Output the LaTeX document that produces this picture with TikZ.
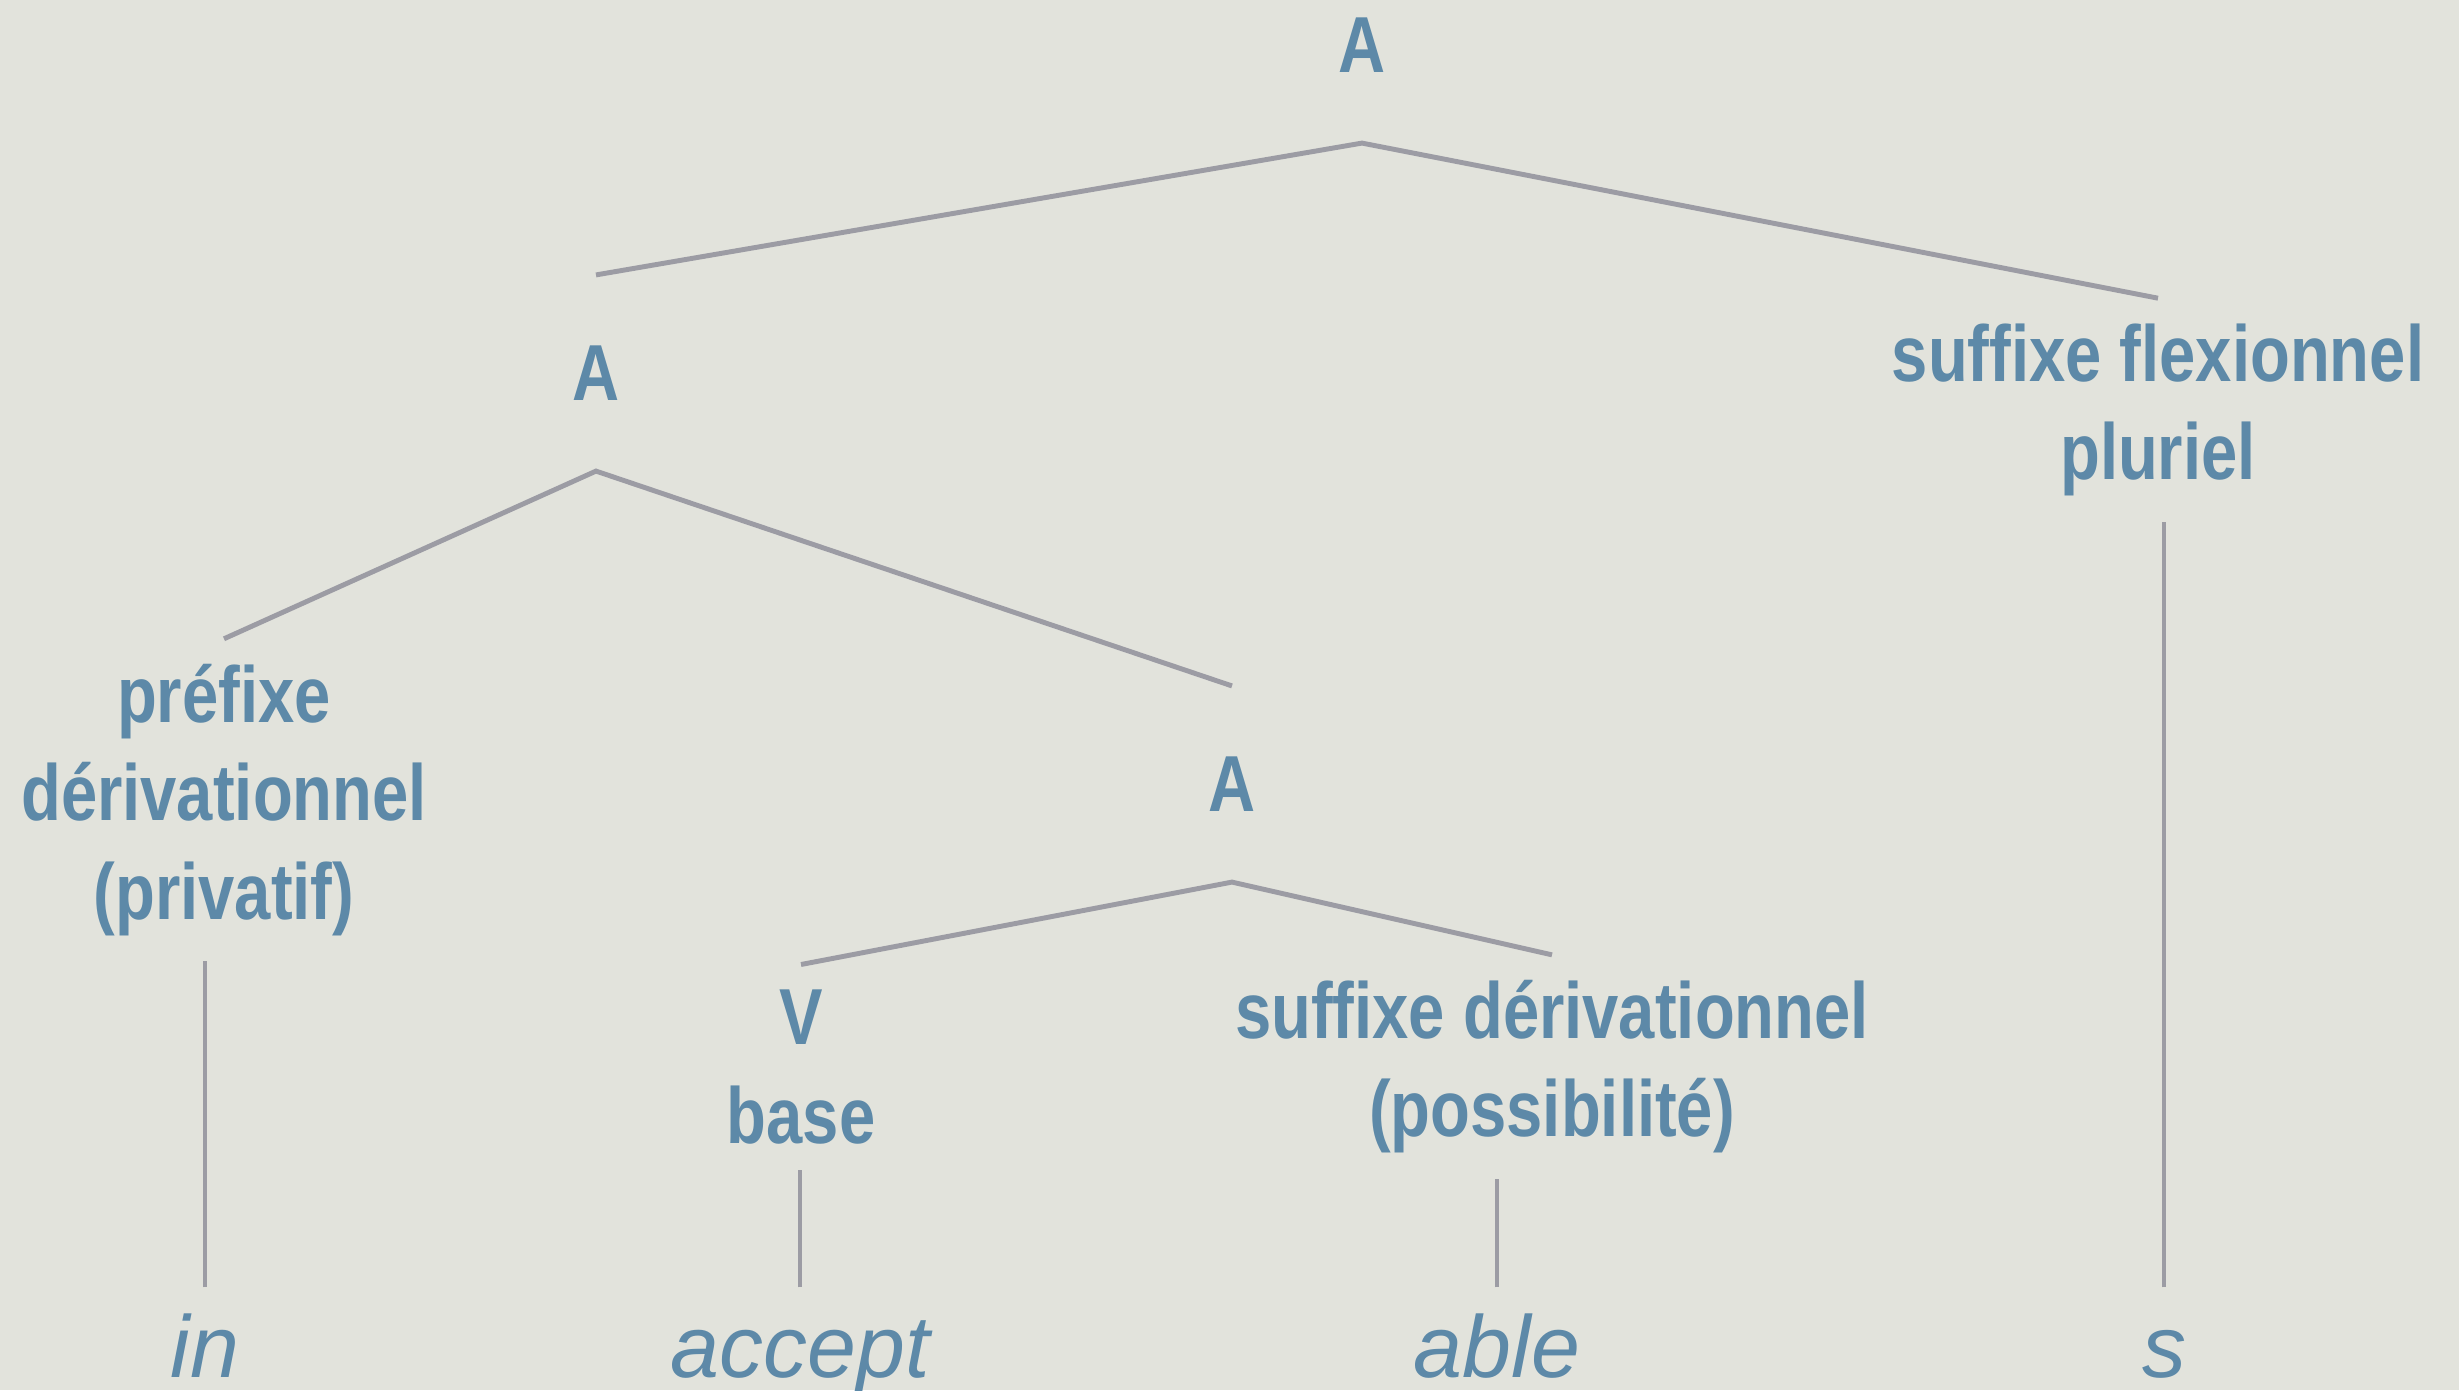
\documentclass[tikz,border=0pt]{standalone}
\usepackage{fontspec}
\usepackage{xcolor}
\newfontfamily\catfont[FakeStretch=0.82]{Liberation Sans}
\newfontfamily\wordfont{Liberation Sans}
\definecolor{treeblue}{RGB}{93,137,168}
\definecolor{treegrey}{RGB}{156,156,164}
\definecolor{paper}{RGB}{226,227,220}

\begin{document}
\begin{tikzpicture}[x=0.01cm, y=-0.01cm,
    cat/.style={font=\catfont\bfseries\fontsize{22.6}{27.9}\selectfont, text=treeblue,
      align=center, inner xsep=0pt, inner ysep=0.25cm},
    catA/.style={cat, inner ysep=0.7cm},
    word/.style={font=\wordfont\itshape\fontsize{25}{30}\selectfont, text=treeblue,
      anchor=base, inner xsep=0pt, inner ysep=0.25cm, text height=0.64cm},
    branch/.style={draw=treegrey, line width=1.4pt}]
  \fill[paper] (0,0) rectangle (2459,1390);
  \useasboundingbox (0,0) rectangle (2459,1390);

  % categories
  \node[catA] (A0) at (1362,45) {A};
  \node[catA] (A1) at (596,373) {A};
  \node[cat] (flex) at (2158,410) {suffixe flexionnel\\pluriel};
  \node[cat] (pref) at (224,800) {préfixe\\dérivationnel\\(privatif)};
  \node[catA] (A2) at (1232,784) {A};
  \node[cat] (V) at (801,1067) {V\\base};
  \node[cat] (sder) at (1552,1067) {suffixe dérivationnel\\(possibilité)};

  % words
  \node[word] (in) at (205,1377) {in};
  \node[word] (accept) at (800,1377) {accept};
  \node[word] (able) at (1497,1377) {able};
  \node[word] (s) at (2164,1377) {s};

  % branches
  \draw[branch] (A1.north) -- (A0.south) -- (flex.north);
  \draw[branch] (pref.north) -- (A1.south) -- (A2.north);
  \draw[branch] (V.north) -- (A2.south) -- (sder.north);
  \draw[branch] (in.north) -- (in.north |- pref.south);
  \draw[branch] (accept.north) -- (accept.north |- V.south);
  \draw[branch] (able.north) -- (able.north |- sder.south);
  \draw[branch] (s.north) -- (s.north |- flex.south);
\end{tikzpicture}
\end{document}
